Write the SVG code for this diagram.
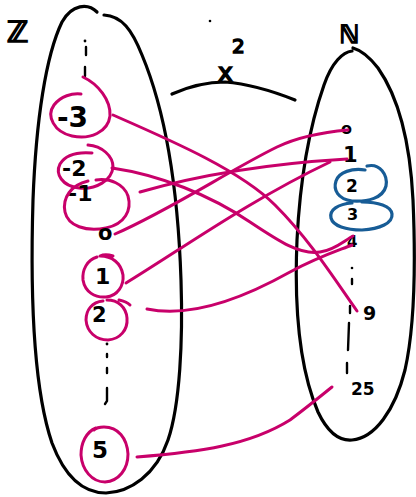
<svg xmlns="http://www.w3.org/2000/svg" width="416" height="497" viewBox="0 0 416 497">
<style>
.blk{fill:none;stroke:#000;stroke-width:3.2;stroke-linecap:round;stroke-linejoin:round}
.thin{fill:none;stroke:#000;stroke-width:2.4;stroke-linecap:round}
.mag{fill:none;stroke:#c8006a;stroke-width:3;stroke-linecap:round;stroke-linejoin:round}
.blu{fill:none;stroke:#175c96;stroke-width:3.2;stroke-linecap:round}
.t{font-family:"DejaVu Sans",sans-serif;font-weight:bold;fill:#000}
.set{font-family:"DejaVu Sans",sans-serif;fill:#000;stroke:#000;stroke-width:1.6}
</style>
<rect width="416" height="497" fill="#fff"/>
<g id="set-Z">
<path class="blk" d="M97,12 C88,3 72,4 62,22 C46,55 36,120 33,200 C30,300 34,390 52,443 C66,480 85,493 106,493 C130,492 156,475 168,440 C180,405 183,340 181,280 C178,190 165,110 142,55 C132,30 122,16 104,15"/>
<text class="set" x="7" y="42" font-size="29">ℤ</text>
</g>
<g id="set-N">
<path class="blk" d="M352,51 C343,52 332,62 324,85 C310,125 300,180 297,240 C294,310 300,370 318,412 C328,433 340,441 352,440 C375,438 395,410 405,370 C414,330 416,270 413,200 C410,140 397,95 378,68 C368,55 360,50 353,48"/>
<text class="set" x="339" y="43" font-size="25">ℕ</text>
</g>
<g id="map-label">
<text class="set" x="218" y="81" font-size="25" stroke-width="0.8">x</text>
<text class="set" x="232" y="53" font-size="20" stroke-width="0.8">2</text>
<circle cx="210" cy="21" r="1.3" fill="#000"/>
<path class="blk" d="M172,94 C190,86 210,82 225,82 C250,84 275,92 295,100"/>
</g>
<g id="left-dots-top">
<circle cx="85" cy="41" r="1.4" fill="#000"/>
<path class="thin" d="M86,47 L86,55 M85,67 L85,76"/>
</g>
<g id="n-3">
<text class="t" x="57" y="127" font-size="28">-3</text>
<path class="mag" d="M83,77 C98,84 111,100 110,116 C108,132 90,140 72,136 C54,132 46,116 54,105 C61,96 72,93 81,94"/>
</g>
<g id="n-2">
<text class="t" x="62" y="176" font-size="22">-2</text>
<path class="mag" d="M88,145 C102,146 113,156 113,167 C112,180 96,190 79,188 C62,186 55,174 60,164 C66,154 80,152 92,153"/>
</g>
<g id="n-1">
<text class="t" x="68" y="201" font-size="22">-1</text>
<path class="mag" d="M88,181 C71,185 62,198 65,212 C68,226 86,232 106,228 C125,224 132,210 128,196 C124,184 110,178 96,180"/>
</g>
<g id="n0">
<text class="t" x="98" y="240" font-size="21">o</text>
</g>
<g id="n1">
<text class="t" x="95" y="284" font-size="22">1</text>
<path class="mag" d="M97,257 C87,260 82,270 83,280 C85,292 95,298 106,297 C118,296 124,285 123,275 C121,263 112,256 100,256 C104,254 110,255 113,256"/>
</g>
<g id="n2">
<text class="t" x="92" y="322" font-size="21">2</text>
<path class="mag" d="M103,301 C92,302 86,310 86,320 C87,332 96,340 108,340 C120,339 128,330 127,318 C126,307 118,300 107,300 M119,300 C124,301 128,303 130,305"/>
</g>
<g id="left-dots-bottom">
<circle cx="107" cy="344" r="1.4" fill="#000"/>
<path class="thin" d="M107,354 L107,357 M107,368 L107,373 M107,388 L107,401 L105,404"/>
</g>
<g id="n5">
<text class="t" x="92" y="458" font-size="23">5</text>
<path class="mag" d="M96,428 C86,432 81,443 81,455 C82,470 92,482 105,482 C119,481 128,469 128,454 C127,438 118,427 104,427 C100,427 96,428 94,430"/>
</g>
<g id="r0"><text class="t" x="341" y="134" font-size="16">o</text></g>
<g id="r1"><text class="t" x="343" y="162" font-size="21">1</text></g>
<g id="r2">
<text class="t" x="346" y="192" font-size="17">2</text>
<path class="blu" d="M367,166 C380,163 388,175 386,186 C383,198 368,202 352,201 C338,199 333,190 336,181 C339,172 352,168 365,170"/>
</g>
<g id="r3">
<text class="t" x="347" y="220" font-size="16">3</text>
<path class="blu" d="M352,203 C338,204 329,210 331,218 C333,226 346,230 362,230 C380,229 393,223 392,214 C391,206 378,202 362,202"/>
</g>
<g id="r4"><text class="t" x="347" y="247" font-size="15">4</text></g>
<g id="right-dots">
<circle cx="352" cy="268" r="1.3" fill="#000"/>
<path class="thin" d="M352,279 L352,284 M350,306 L350,313 M349,323 L348,350 M347,363 L347,373"/>
</g>
<g id="r9"><text class="t" x="363" y="320" font-size="19">9</text></g>
<g id="r25"><text class="t" x="351" y="395" font-size="17">25</text></g>
<g id="connectors">
<path class="mag" d="M113,115 C170,140 240,170 275,205 C310,240 335,280 357,311"/>
<path class="mag" d="M112,168 C160,175 210,195 250,222 C280,242 300,255 320,252 C335,250 345,240 353,236"/>
<path class="mag" d="M140,192 Q230,166 347,159"/>
<path class="mag" d="M115,234 C170,210 230,170 277,147 C300,136 325,132 348,130"/>
<path class="mag" d="M126,283 C180,250 250,200 330,162"/>
<path class="mag" d="M147,309 C190,318 240,300 290,272 C320,256 340,250 352,245"/>
<path class="mag" d="M137,457 C200,452 250,445 290,420 C310,405 322,395 332,387"/>
</g>
</svg>
